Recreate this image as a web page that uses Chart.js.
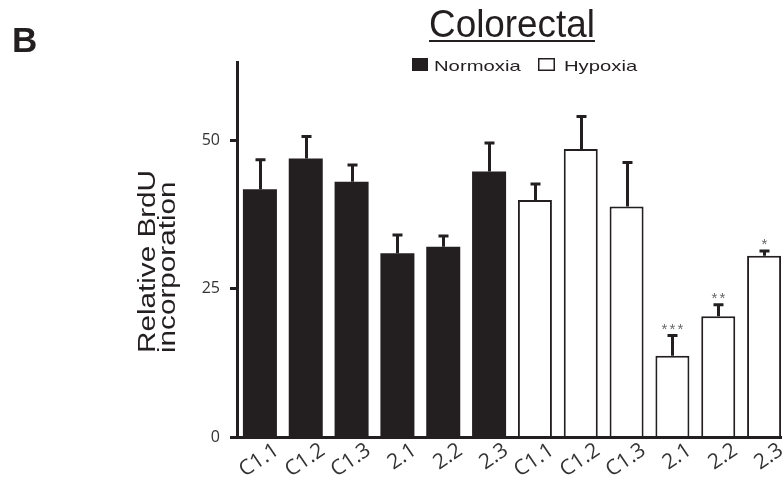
<!DOCTYPE html>
<html>
<head>
<meta charset="utf-8">
<script src="https://cdn.jsdelivr.net/npm/chart.js@4"></script>
<style>
  html, body { margin: 0; padding: 0; background: #fff; }
  #wrap { width: 782px; height: 486px; overflow: hidden; position: relative; }
  #chart { display: block; }
</style>
</head>
<body>
<div id="wrap"><canvas id="chart" width="790" height="486"></canvas></div>
<script>
// ---- data ----
var cellLines = ['C1.1', 'C1.2', 'C1.3', '2.1', '2.2', '2.3'];
var normoxia = [41.8, 47.0, 43.1, 31.0, 32.1, 44.8];
var normoxiaErr = [5.1, 3.8, 2.9, 3.2, 1.9, 4.9];
var hypoxia = [40.0, 48.6, 38.9, 13.7, 20.4, 30.6];
var hypoxiaErr = [2.8, 5.6, 7.5, 3.5, 2.0, 0.9];
var hypoxiaStars = ['', '', '', '***', '**', '*'];
var yTicks = [0, 25, 50];
var yMax = 63.3;

var panelLetter = 'B';
var chartTitle = 'Colorectal';
var yTitle = ['Relative BrdU', 'incorporation'];
var legendNames = ['Normoxia', 'Hypoxia'];

(function() {
  'use strict';

  var INK = '#231f20';
  var SANS = '"Liberation Sans", Arial, sans-serif';

  var labels = cellLines.concat(cellLines);
  var blank = cellLines.map(function() { return null; });

  // draw text squeezed/stretched along its own direction
  function stretchText(ctx, text, x, y, sx) {
    ctx.save();
    ctx.translate(x, y);
    ctx.scale(sx, 1);
    ctx.fillText(text, 0, 0);
    ctx.restore();
  }

  // ---- error bars + significance stars ----
  var errorBars = {
    id: 'errorBars',
    afterDatasetsDraw: function(chart) {
      var ctx = chart.ctx;
      var y = chart.scales.y;
      var groups = [
        { ds: 0, vals: normoxia, errs: normoxiaErr, stars: null },
        { ds: 1, vals: hypoxia, errs: hypoxiaErr, stars: hypoxiaStars }
      ];
      ctx.save();
      ctx.strokeStyle = INK;
      ctx.lineWidth = 3;
      groups.forEach(function(g) {
        var meta = chart.getDatasetMeta(g.ds);
        g.vals.forEach(function(v, i) {
          var bar = meta.data[i + g.ds * cellLines.length];
          if (!bar) return;
          var x = Math.round(bar.x) + 0.5;
          var yTop = y.getPixelForValue(v);
          var yErr = y.getPixelForValue(v + g.errs[i]);
          ctx.beginPath();
          ctx.moveTo(x, yTop);
          ctx.lineTo(x, yErr);
          ctx.moveTo(x - 5, yErr + 0.5);
          ctx.lineTo(x + 5, yErr + 0.5);
          ctx.stroke();
          var s = g.stars ? g.stars[i] : '';
          if (s) {
            // stars are spaced out a little in the original
            ctx.fillStyle = '#666666';
            ctx.font = '15px ' + SANS;
            ctx.textAlign = 'center';
            var step = 8;
            for (var k = 0; k < s.length; k++) {
              ctx.fillText(s[k], x + (k - (s.length - 1) / 2) * step, yErr - 1);
            }
          }
        });
      });
      ctx.restore();
    }
  };

  // ---- panel letter, title, legend, y title ----
  var overlay = {
    id: 'overlay',
    afterDraw: function(chart) {
      var ctx = chart.ctx;
      ctx.save();
      ctx.fillStyle = INK;
      ctx.textBaseline = 'alphabetic';

      ctx.font = 'bold 35px ' + SANS;
      ctx.textAlign = 'left';
      ctx.fillText(panelLetter, 12, 52);

      ctx.font = '38px ' + SANS;
      ctx.textAlign = 'center';
      stretchText(ctx, chartTitle, 512, 37, 0.97);
      var tw = ctx.measureText(chartTitle).width * 0.97;
      ctx.fillRect(512 - tw / 2, 40, tw, 2);

      ctx.textAlign = 'left';
      ctx.font = '15px ' + SANS;
      ctx.fillRect(412, 58, 16, 13);
      stretchText(ctx, legendNames[0], 434, 71, 1.35);
      ctx.strokeStyle = INK;
      ctx.lineWidth = 1.5;
      ctx.strokeRect(538.75, 58.75, 15.5, 11.5);
      stretchText(ctx, legendNames[1], 564, 71, 1.35);

      ctx.font = '23px ' + SANS;
      [155, 175].forEach(function(bx, i) {
        ctx.save();
        ctx.translate(bx, 353);
        ctx.rotate(-Math.PI / 2);
        ctx.scale(1.29, 1);
        ctx.fillText(yTitle[i], 0, 0);
        ctx.restore();
      });
      ctx.restore();
    }
  };

  new Chart(document.getElementById('chart').getContext('2d'), {
    type: 'bar',
    data: {
      labels: labels,
      datasets: [
        {
          label: legendNames[0],
          data: normoxia.concat(blank),
          backgroundColor: INK,
          borderWidth: 0
        },
        {
          label: legendNames[1],
          data: blank.concat(hypoxia),
          backgroundColor: '#ffffff',
          borderColor: INK,
          borderWidth: 2
        }
      ]
    },
    options: {
      responsive: false,
      devicePixelRatio: 1,
      animation: false,
      layout: { padding: { top: 62, right: 3, bottom: 0, left: 0 } },
      datasets: { bar: { grouped: false, categoryPercentage: 1, barPercentage: 0.742 } },
      plugins: {
        legend: { display: false },
        title: { display: false },
        tooltip: { enabled: false }
      },
      scales: {
        x: {
          grid: { display: true, drawOnChartArea: false, drawTicks: false },
          border: { display: true, color: INK, width: 3, z: 1 },
          ticks: {
            autoSkip: false,
            minRotation: 34,
            maxRotation: 34,
            labelOffset: 17,
            padding: 1,
            color: '#333333',
            font: { family: '"Open Sans", sans-serif', size: 21 }
          },
          afterFit: function(s) { s.height = 49; }
        },
        y: {
          min: 0,
          max: yMax,
          grid: { display: true, drawOnChartArea: false, tickLength: 7, tickWidth: 3, tickColor: INK },
          border: { display: true, color: INK, width: 3, z: 1 },
          ticks: {
            padding: 10,
            color: '#333333',
            font: { family: '"Open Sans", sans-serif', size: 16 }
          },
          afterBuildTicks: function(s) {
            s.ticks = yTicks.map(function(v) { return { value: v }; });
          },
          afterFit: function(s) { s.width = 237; }
        }
      }
    },
    plugins: [errorBars, overlay]
  });
})();
</script>
</body>
</html>
